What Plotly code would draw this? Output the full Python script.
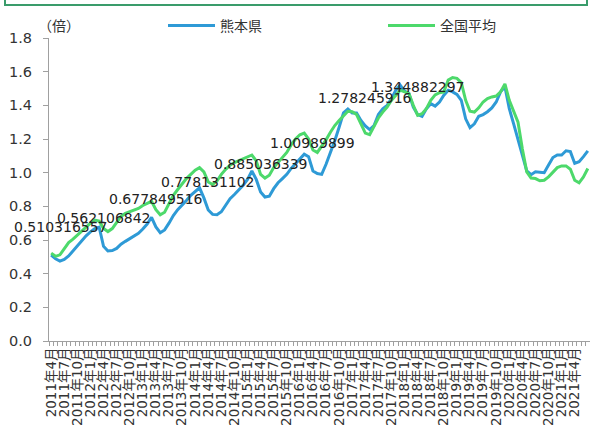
import plotly.graph_objects as go

# categories: monthly, 2011年4月 .. 2021年7月
months = []
for y in range(2011, 2022):
    for m in range(1, 13):
        if (y == 2011 and m < 4) or (y == 2021 and m > 7):
            continue
        months.append(f"{y}年{m}月")

kumamoto = [
    0.510316557, 0.488, 0.475, 0.485, 0.505, 0.535, 0.565, 0.595, 0.625, 0.648, 0.668, 0.676,
    0.562106842, 0.535, 0.537, 0.55, 0.575, 0.592, 0.607, 0.622, 0.64, 0.665, 0.695, 0.735,
    0.677849516, 0.643, 0.66, 0.70, 0.745, 0.78, 0.805, 0.835, 0.865, 0.89, 0.91, 0.85,
    0.778131102, 0.752, 0.75, 0.768, 0.81, 0.845, 0.87, 0.897, 0.925, 0.96, 1.01, 0.96,
    0.885036339, 0.855, 0.86, 0.905, 0.94, 0.965, 0.99, 1.025, 1.055, 1.08, 1.11, 1.095,
    1.00989899, 0.995, 0.99, 1.05, 1.115, 1.19, 1.27, 1.355, 1.378, 1.355, 1.355, 1.31,
    1.278245916, 1.256, 1.28, 1.345, 1.38, 1.40, 1.44, 1.49, 1.52, 1.485, 1.47, 1.39,
    1.344882297, 1.335, 1.38, 1.41, 1.395, 1.42, 1.46, 1.49, 1.48, 1.465, 1.43, 1.32,
    1.268, 1.29, 1.335, 1.345, 1.362, 1.385, 1.42, 1.48, 1.51, 1.38, 1.29, 1.20,
    1.10, 1.01, 0.988, 1.005, 1.003, 1.00, 1.045, 1.09, 1.105, 1.105, 1.13, 1.125,
    1.055, 1.065, 1.095, 1.13,
]

national = [
    0.522, 0.503, 0.512, 0.55, 0.585, 0.605, 0.63, 0.652, 0.675, 0.70, 0.718, 0.712,
    0.668, 0.65, 0.668, 0.705, 0.74, 0.758, 0.768, 0.777, 0.787, 0.805, 0.82, 0.83,
    0.78, 0.75, 0.765, 0.815, 0.865, 0.90, 0.935, 0.965, 0.99, 1.015, 1.03, 1.005,
    0.945, 0.93, 0.95, 0.99, 1.02, 1.045, 1.06, 1.072, 1.08, 1.095, 1.105, 1.07,
    0.99, 0.968, 0.985, 1.03, 1.06, 1.085, 1.12, 1.165, 1.20, 1.225, 1.235, 1.20,
    1.135, 1.12, 1.155, 1.195, 1.24, 1.28, 1.31, 1.335, 1.365, 1.362, 1.345, 1.29,
    1.235, 1.226, 1.275, 1.325, 1.36, 1.39, 1.43, 1.46, 1.49, 1.48, 1.47, 1.40,
    1.34, 1.35, 1.38, 1.43, 1.462, 1.475, 1.48, 1.55, 1.565, 1.56, 1.535, 1.43,
    1.365, 1.36, 1.385, 1.42, 1.44, 1.45, 1.455, 1.48, 1.527, 1.43, 1.37, 1.30,
    1.14, 1.005, 0.968, 0.965, 0.952, 0.955, 0.975, 1.00, 1.03, 1.04, 1.04, 1.02,
    0.955, 0.94, 0.975, 1.025,
]

# April points of 熊本県 carry data labels
label_months = ["2011年4月", "2012年4月", "2013年4月", "2014年4月",
                "2015年4月", "2016年4月", "2017年4月", "2018年4月"]

tick_labels = months[::3]

x = list(range(len(months)))
tickvals = x[::3]

FONT = "DejaVu Sans, Noto Sans CJK JP, sans-serif"
BLUE = "#2e9ad6"
GREEN = "#4dd96b"

W, H = 590, 430
ML, MR, MT, MB = 49, 0, 38, 89
PW, PH = W - ML - MR, H - MT - MB


def px_x(p):
    return (p - ML) / PW


def px_y(p):
    return (H - MB - p) / PH


fig = go.Figure()
fig.add_trace(go.Scatter(x=x, y=kumamoto, mode="lines", name="熊本県",
                         line=dict(color=BLUE, width=3), legend="legend"))
fig.add_trace(go.Scatter(x=x, y=national, mode="lines", name="全国平均",
                         line=dict(color=GREEN, width=3), legend="legend2"))

for k, lm in enumerate(label_months):
    i = months.index(lm)
    v = kumamoto[i]
    fig.add_annotation(x=i, y=v, text=str(v), showarrow=False, yshift=28,
                       xshift=(10 if k == 0 else 0),
                       font=dict(family=FONT, size=14, color="#222"))

fig.add_annotation(xref="paper", yref="paper", x=px_x(36), y=px_y(16),
                   text="（倍）", showarrow=False,
                   font=dict(family=FONT, size=14, color="#333"))

fig.add_shape(type="rect", xref="paper", yref="paper",
              x0=px_x(5), x1=px_x(587), y0=px_y(5), y1=px_y(-20),
              line=dict(color="#3a9c6b", width=2), fillcolor="rgba(0,0,0,0)")

leg_common = dict(orientation="h", xanchor="left", yanchor="middle", itemwidth=47,
                  font=dict(family=FONT, size=14, color="#333"),
                  bgcolor="rgba(0,0,0,0)")

fig.update_layout(
    width=W, height=H,
    margin=dict(l=ML, r=MR, t=MT, b=MB, autoexpand=False),
    paper_bgcolor="white", plot_bgcolor="white",
    font=dict(family=FONT, size=14, color="#333"),
    showlegend=True,
    legend=dict(x=px_x(163), y=px_y(26), **leg_common),
    legend2=dict(x=px_x(383), y=px_y(26), **leg_common),
)
fig.update_xaxes(
    range=[-0.5, len(months) - 0.5], tickmode="array", tickvals=tickvals, ticktext=tick_labels,
    tickangle=-90, ticks="", showline=True, linecolor="#a0a0a0", linewidth=1, automargin=False,
    showgrid=False, zeroline=False, tickfont=dict(family=FONT, size=13.5, color="#333"),
    minor=dict(ticks="outside", tick0=-0.5, dtick=1, ticklen=4, tickcolor="#a0a0a0", showgrid=False),
)
fig.update_yaxes(
    range=[0, 1.8], dtick=0.2, tickformat=".1f", ticks="outside", ticklen=5,
    tickcolor="#a0a0a0", showline=True, linecolor="#a0a0a0", linewidth=1, automargin=False,
    ticklabelstandoff=8,
    showgrid=False, zeroline=False, tickfont=dict(family=FONT, size=14.5, color="#333"),
)

fig.write_html("out.html", config={"displayModeBar": False},
               post_script="document.body.style.margin='0';")
